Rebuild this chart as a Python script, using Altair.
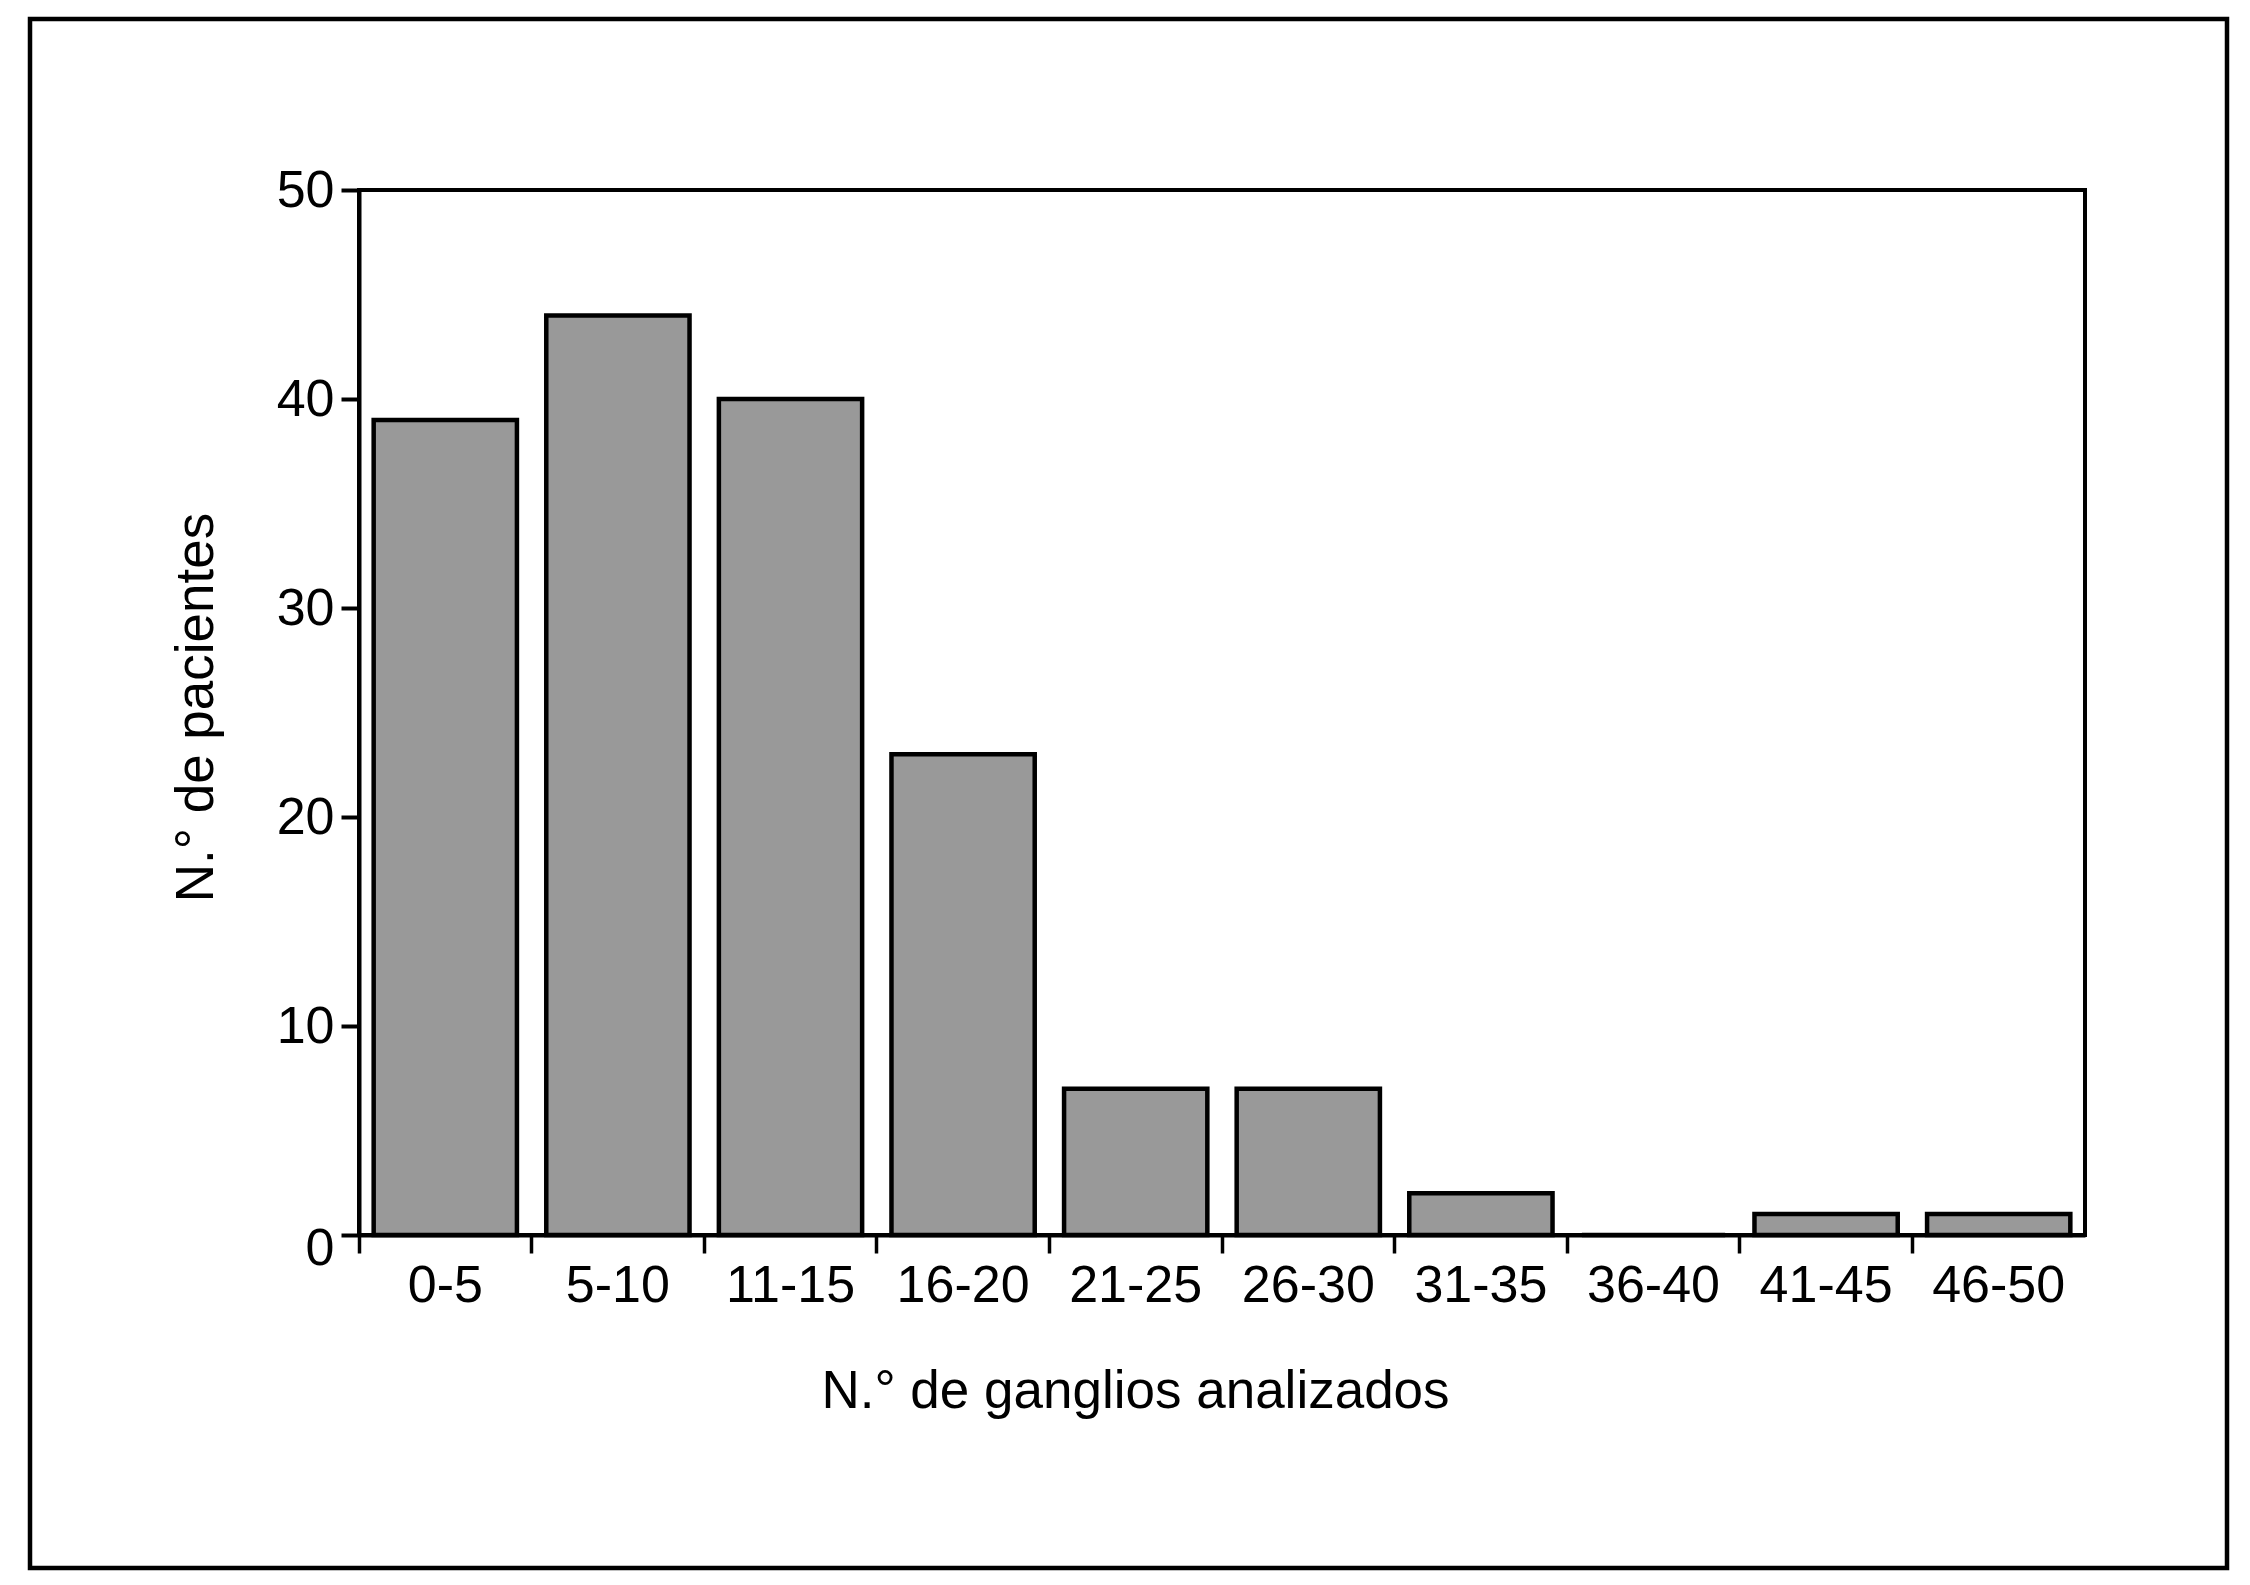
import altair as alt
import pandas as pd

categories = ["0-5", "5-10", "11-15", "16-20", "21-25", "26-30", "31-35", "36-40", "41-45", "46-50"]
patients = [39, 44, 40, 23, 7, 7, 2, 0, 1, 1]
y_ticks = [0, 10, 20, 30, 40, 50]

df = pd.DataFrame({"rango": categories, "pacientes": patients})

FONT = "Liberation Sans"
W, H = 1726, 1045

bars = alt.Chart(df).mark_bar(
    color="#999999", stroke="black", strokeWidth=4.5,
    width=alt.RelativeBandSize(0.83)
).encode(
    x=alt.X("rango:N", sort=None,
            scale=alt.Scale(paddingInner=0, paddingOuter=0),
            axis=alt.Axis(title="N.\u00b0 de ganglios analizados", labelAngle=0,
                          bandPosition=0,
                          tickSize=18, tickWidth=3.5, labelPadding=48,
                          labelBaseline="alphabetic",
                          domainWidth=4, domainColor="black", tickColor="black",
                          labelFontSize=52, labelColor="black", labelFont=FONT,
                          titleFontSize=53, titleFont=FONT, titleFontWeight="normal",
                          titleColor="black", titleX=776, titleY=172,
                          titleBaseline="alphabetic", titleAlign="center")),
    y=alt.Y("pacientes:Q",
            scale=alt.Scale(domain=[0, 50], nice=False),
            axis=alt.Axis(title="N.\u00b0 de pacientes", values=y_ticks, grid=False,
                          tickSize=18, tickWidth=4, labelPadding=7,
                          labelOffset=alt.condition("datum.value == 0", alt.value(13), alt.value(0)),
                          domainWidth=4, domainColor="black", tickColor="black",
                          labelFontSize=52, labelColor="black", labelFont=FONT,
                          titleFontSize=53, titleFont=FONT, titleFontWeight="normal",
                          titleColor="black", titleX=-147, titleY=517,
                          titleBaseline="alphabetic", titleAlign="center", titleAngle=270)),
)

frame = alt.Chart(alt.Data(values=[{}])).mark_rect(
    fillOpacity=0, stroke="black", strokeWidth=4.5
).encode(
    x=alt.value(-329), x2=alt.value(1868),
    y=alt.value(-171), y2=alt.value(1378),
)

chart = alt.layer(bars, frame).properties(
    width=W, height=H,
    autosize=alt.AutoSizeParams(type="none"),
    padding={"left": 351, "top": 182, "right": 150, "bottom": 345},
    background="white",
).configure_view(
    stroke="black", strokeWidth=4
)

chart.save("out.html", embed_options={"renderer": "svg", "actions": False})
